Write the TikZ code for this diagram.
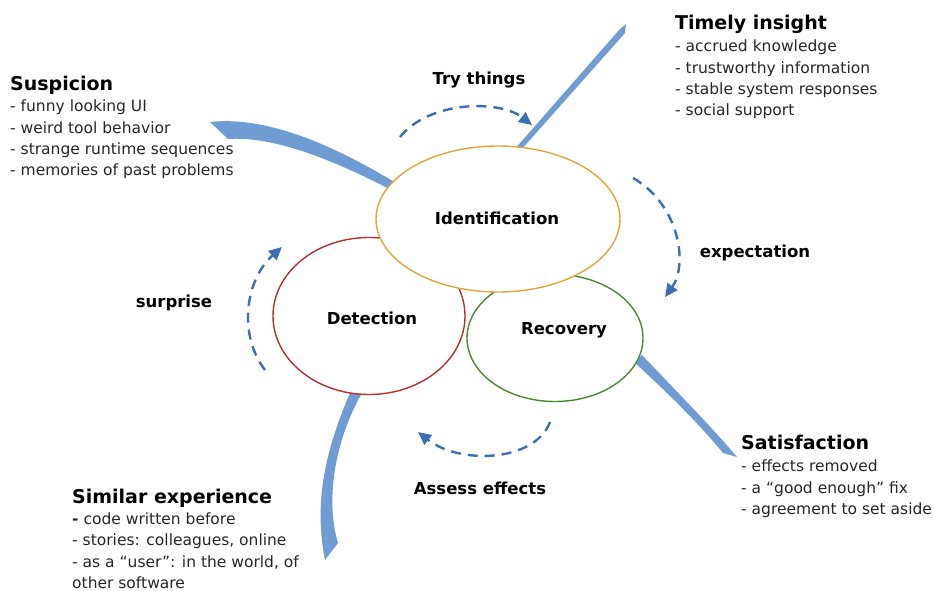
\documentclass[tikz,border=0pt]{standalone}
\usepackage{fontspec}
\setmainfont{DejaVu Sans}
\usetikzlibrary{shapes.geometric,arrows.meta,positioning}
\definecolor{identline}{HTML}{E0A53C}
\definecolor{detectline}{HTML}{B5302E}
\definecolor{recovline}{HTML}{4A8A2E}
\definecolor{flowfill}{HTML}{6F9DD3}
\definecolor{cyclecol}{HTML}{3C6EB4}
\begin{document}
\begin{tikzpicture}[x=1pt,y=-1pt]
  \tikzstyle{phasenode}=[ellipse, fill=white, line width=1.4pt, inner sep=0pt]
  \tikzstyle{cuenode}=[anchor=base, inner sep=0pt, font=\fontsize{16.5}{20}\selectfont\bfseries]
  \tikzstyle{titlenode}=[anchor=base west, inner sep=0pt, font=\fontsize{19}{23}\selectfont\bfseries]
  \tikzstyle{listnode}=[anchor=north west, inner sep=0pt, align=left, text=black!85, font=\fontsize{15.5}{21.3}\selectfont]
  \tikzstyle{flowarrow}=[fill=flowfill, draw=none]
  \tikzstyle{cyclearrow}=[draw=cyclecol, line width=2.4pt, dash pattern=on 10pt off 7pt, -{Triangle[length=13pt,width=12pt]}]
  \useasboundingbox (0,0) rectangle (934,591);

  % flows leaving the cycle
  \fill[flowarrow] (210,122) .. controls (265,116) and (330,143) .. (396,183) -- (393,191) .. controls (330,158) and (272,136) .. (228,139) -- cycle;
  \fill[flowarrow] (514,150) -- (620,29) -- (626,24) -- (625,33) -- (521,150) -- cycle;
  \fill[flowarrow] (634,362) .. controls (670,395) and (700,425) .. (723,453) -- (737,457) .. controls (710,425) and (675,390) .. (642,355) -- cycle;
  \fill[flowarrow] (350,393) .. controls (330,440) and (312,495) .. (325,560) -- (338,543) .. controls (325,500) and (335,440) .. (362,393) -- cycle;

  % phases
  \node[phasenode, draw=detectline, minimum width=192, minimum height=157] (detect) at (369,316) {};
  \node[phasenode, draw=recovline, minimum width=176, minimum height=127] (recov) at (555,338) {};
  \node[phasenode, draw=identline, minimum width=244, minimum height=146] (ident) at (498,219) {};
  \node[cuenode] (identtext) at (497,224) {Identification};
  \node[cuenode] (detecttext) at (372,324) {Detection};
  \node[cuenode] (recovtext) at (564,334) {Recovery};

  % cycle
  \coordinate (trya) at (400,137);
  \coordinate (tryb) at (532,125);
  \coordinate (expa) at (633,178);
  \coordinate (expb) at (665,297);
  \coordinate (assa) at (550,422);
  \coordinate (assb) at (418,432);
  \coordinate (sura) at (265,370);
  \coordinate (surb) at (282,247);
  \draw[cyclearrow] (trya) .. controls (430,100) and (500,100) .. (tryb);
  \draw[cyclearrow] (expa) .. controls (680,205) and (688,265) .. (expb);
  \draw[cyclearrow] (assa) .. controls (535,462) and (460,465) .. (assb);
  \draw[cyclearrow] (sura) .. controls (238,335) and (245,280) .. (surb);
  \node[cuenode] (trytext) at (479,85) {Try things};
  \node[cuenode] (exptext) at (755,257) {expectation};
  \node[cuenode] (asstext) at (480,494) {Assess effects};
  \node[cuenode] (surtext) at (174,307) {surprise};

  % what feeds each phase
  \node[titlenode] (susp) at (10,90.5) {Suspicion};
  \node[listnode] (susplist) at (10,100) {- funny looking UI\\- weird tool behavior\\- strange runtime sequences\\- memories of past problems};
  \node[titlenode] (timely) at (675,30) {Timely insight};
  \node[listnode] (timelylist) at (675,40) {- accrued knowledge\\- trustworthy information\\- stable system responses\\- social support};
  \node[titlenode] (satis) at (741,449) {Satisfaction};
  \node[listnode] (satislist) at (741,460) {- effects removed\\- a “good enough” fix\\- agreement to set aside};
  \node[titlenode] (simil) at (72,503) {Similar experience};
  \node[listnode] (simillist) at (72,512.5) {\textbf{-} code written before\\- stories: colleagues, online\\- as a “user”: in the world, of\\other software};
\end{tikzpicture}
\end{document}
